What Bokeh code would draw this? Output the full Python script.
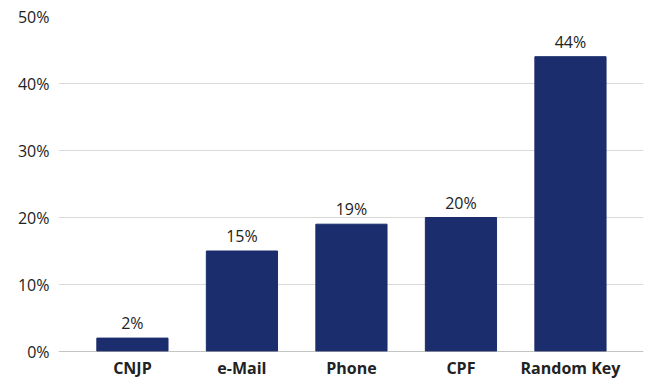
from bokeh.plotting import figure
from bokeh.models import ColumnDataSource, FixedTicker, Span, NumeralTickFormatter, LabelSet, Range1d
from bokeh.core.properties import value
from bokeh.embed import file_html
from bokeh.resources import INLINE

categories = ["CNJP", "e-Mail", "Phone", "CPF", "Random Key"]
values = [0.02, 0.15, 0.19, 0.20, 0.44]
value_labels = ["2%", "15%", "19%", "20%", "44%"]
y_ticks = [0, 0.1, 0.2, 0.3, 0.4, 0.5]

xs = list(range(len(categories)))
src = ColumnDataSource(dict(x=xs, top=values, lab=value_labels))

FONT = "Open Sans"
p = figure(width=649, height=381, output_backend="svg", toolbar_location=None,
           x_range=Range1d(-0.675, len(categories) - 1 + 0.667), y_range=Range1d(0, 0.5),
           min_border_left=58, min_border_right=6, min_border_top=16, min_border_bottom=0)
p.outline_line_color = None
p.background_fill_color = "white"

p.vbar(x="x", top="top", width=0.65, source=src, fill_color="#1b2d6c", line_color="#1b2d6c")

p.add_layout(LabelSet(x="x", y="top", text="lab", source=src, text_align="center",
                      text_baseline="bottom", y_offset=4, text_font_size="16px",
                      text_font=value(FONT), text_color="#222222"))

p.add_layout(Span(location=0, dimension="width", line_color="#8a8a8a", line_width=1.2))

p.yaxis.ticker = FixedTicker(ticks=y_ticks)
p.yaxis.formatter = NumeralTickFormatter(format="0%")
p.yaxis.axis_line_color = None
p.yaxis.major_tick_line_color = None
p.yaxis.minor_tick_line_color = None
p.yaxis.major_tick_out = 0
p.yaxis.major_tick_in = 0
p.yaxis.major_label_text_font = FONT
p.yaxis.major_label_text_font_size = "16px"
p.yaxis.major_label_text_color = "#222222"
p.yaxis.major_label_standoff = 9

p.xaxis.ticker = FixedTicker(ticks=xs)
p.xaxis.major_label_overrides = {i: c for i, c in enumerate(categories)}
p.xaxis.axis_line_color = None
p.xaxis.major_tick_line_color = None
p.xaxis.minor_tick_line_color = None
p.xaxis.major_tick_out = 0
p.xaxis.major_tick_in = 0
p.xaxis.major_label_text_font = FONT
p.xaxis.major_label_text_font_size = "16px"
p.xaxis.major_label_text_font_style = "bold"
p.xaxis.major_label_text_color = "#222222"
p.xaxis.major_label_standoff = 5

p.xgrid.grid_line_color = None
p.ygrid.ticker = FixedTicker(ticks=y_ticks[1:])
p.ygrid.grid_line_color = "#d9d9d9"
p.ygrid.grid_line_width = 1

open("out.html", "w").write(file_html(p, INLINE))
